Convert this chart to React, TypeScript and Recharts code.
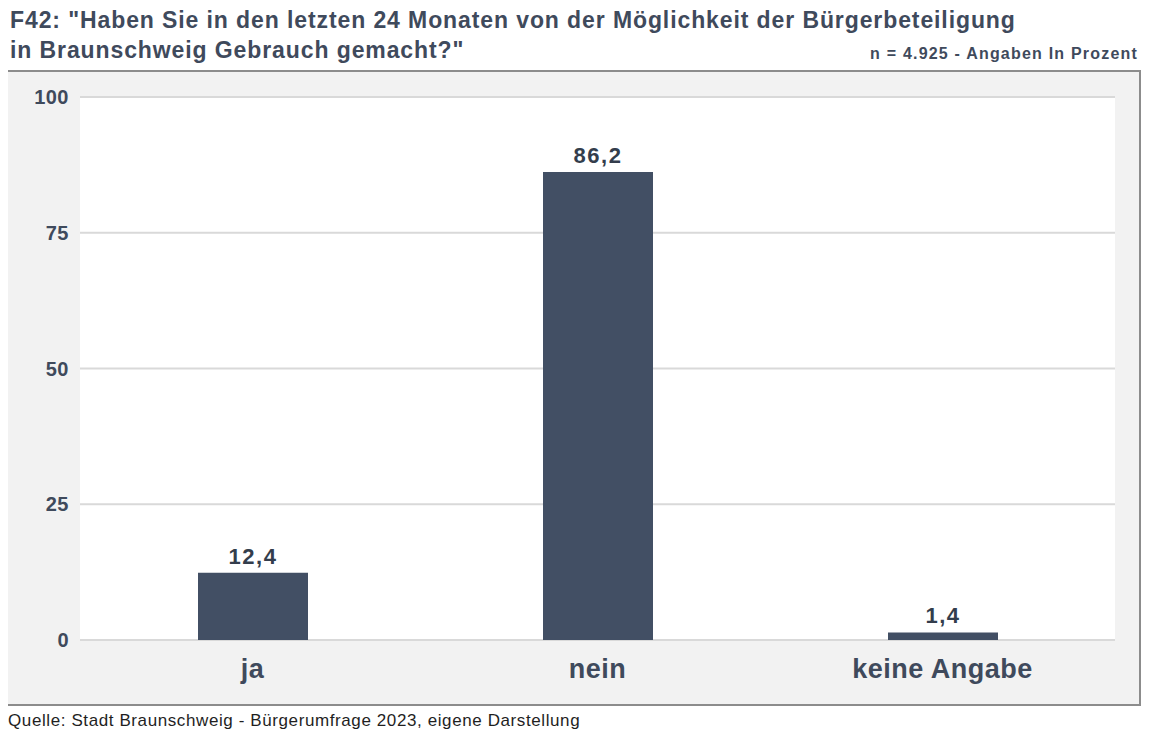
import { BarChart, Bar, XAxis, YAxis, CartesianGrid, LabelList } from 'recharts'

const categories = ['ja', 'nein', 'keine Angabe']
const shares = [12.4, 86.2, 1.4]
const yTicks = [0, 25, 50, 75, 100]

const data = categories.map((name, i) => ({ name, value: shares[i] }))

const textColor = '#3f4a5c'
const font = '"Liberation Sans", Arial, sans-serif'

const fmt = (v: number) => v.toFixed(1).replace('.', ',')

export default function App() {
  return (
    <div style={{ position: 'relative', width: 1150, height: 740, margin: -8, background: '#fff', fontFamily: font, color: textColor, overflow: 'hidden' }}>
      <div style={{ position: 'absolute', left: 10, top: 5, fontSize: 23, letterSpacing: 0.9, fontWeight: 'bold', lineHeight: '30px', whiteSpace: 'nowrap' }}>
        F42: "Haben Sie in den letzten 24 Monaten von der Möglichkeit der Bürgerbeteiligung
        <br />
        in Braunschweig Gebrauch gemacht?"
      </div>
      <div style={{ position: 'absolute', right: 12, top: 45, fontSize: 16, letterSpacing: 1.2, fontWeight: 'bold', whiteSpace: 'nowrap' }}>
        n = 4.925 - Angaben In Prozent
      </div>
      <div style={{ position: 'absolute', left: 5, top: 70, width: 1132, height: 632, background: '#f2f2f2', border: '2px solid #8c8c8c' }}>
        <BarChart width={1132} height={632} data={data} margin={{ top: 25, right: 24, bottom: 0, left: 0 }}>
          <CartesianGrid vertical={false} fill="#ffffff" stroke="#d9d9d9" strokeWidth={2} />
          <XAxis
            dataKey="name"
            height={64}
            axisLine={false}
            tickLine={false}
            tickSize={0}
            tickMargin={19}
            tick={{ fontSize: 27, fontWeight: 'bold', fill: textColor, fontFamily: font, letterSpacing: 0.5 }}
          />
          <YAxis
            width={73}
            domain={[0, 100]}
            ticks={yTicks}
            axisLine={false}
            tickLine={false}
            tickSize={0}
            tickMargin={11}
            tick={{ fontSize: 20, fontWeight: 'bold', fill: textColor, fontFamily: font, letterSpacing: 0.5 }}
          />
          <Bar dataKey="value" fill="#424f64" barSize={110} isAnimationActive={false}>
            <LabelList
              dataKey="value"
              position="top"
              offset={9}
              formatter={(v: any) => fmt(Number(v))}
              style={{ fontSize: 22, fontWeight: 'bold', fill: '#333d4c', fontFamily: font, letterSpacing: 1.5 }}
            />
          </Bar>
        </BarChart>
      </div>
      <div style={{ position: 'absolute', left: 8, top: 711, fontSize: 17, letterSpacing: 0.6, lineHeight: '20px', color: '#1f1f1f', whiteSpace: 'nowrap' }}>
        Quelle: Stadt Braunschweig - Bürgerumfrage 2023, eigene Darstellung
      </div>
    </div>
  )
}
